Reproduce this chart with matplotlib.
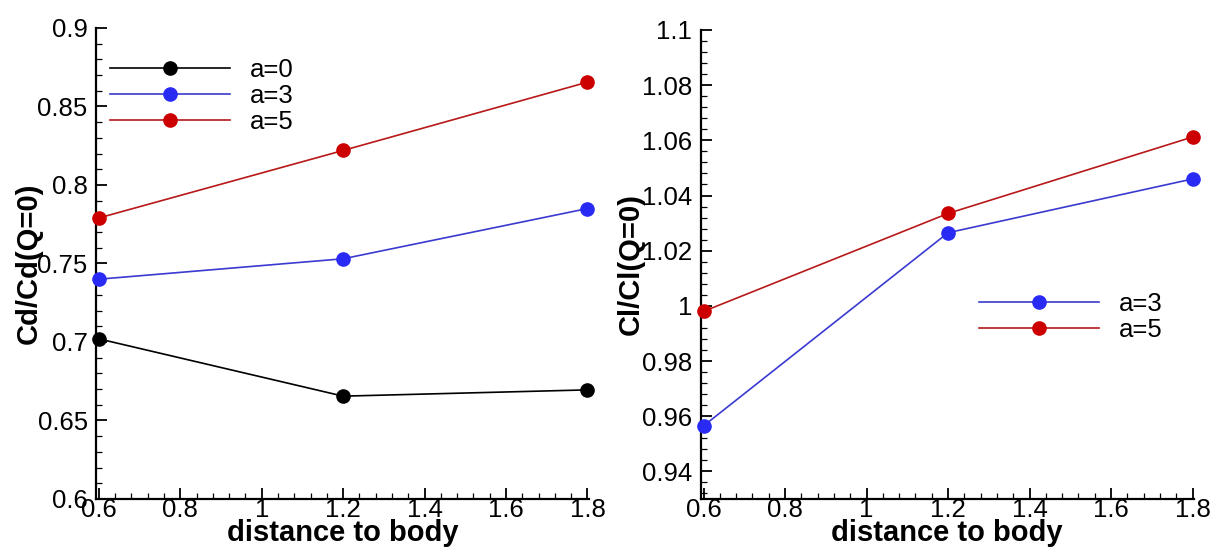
import matplotlib
matplotlib.use("Agg")
import matplotlib.pyplot as plt
from matplotlib.ticker import MultipleLocator

plt.rcParams['font.family'] = ['Liberation Sans', 'DejaVu Sans']

distance = [0.6, 1.2, 1.8]
cd_a0 = [0.702, 0.6655, 0.6695]
cd_a3 = [0.740, 0.753, 0.785]
cd_a5 = [0.779, 0.822, 0.8655]
cl_a3 = [0.9565, 1.0265, 1.046]
cl_a5 = [0.998, 1.0335, 1.0612]

left_labels = ['a=0', 'a=3', 'a=5']
right_labels = ['a=3', 'a=5']
left_yticks = [0.6, 0.65, 0.7, 0.75, 0.8, 0.85, 0.9]
right_yticks = [0.94, 0.96, 0.98, 1.0, 1.02, 1.04, 1.06, 1.08, 1.1]

BLACK_L, BLACK_M = '#000000', '#000000'
BLUE_L, BLUE_M = '#3a3ad0', '#2a2af5'
RED_L, RED_M = '#b81818', '#cc0000'

TICK_FS = 18.5
LABEL_FS = 21

fig = plt.figure(figsize=(12.15, 5.49), dpi=100)
ax1 = fig.add_axes([0.0790, 0.0911, 0.4055, 0.8579])
ax2 = fig.add_axes([0.5767, 0.0911, 0.4058, 0.8543])

def style(ax, ymin, ymax, ymaj, ymin_step):
    ax.set_xlim(0.593, 1.803)
    ax.set_ylim(ymin, ymax)
    ax.spines['top'].set_visible(False)
    ax.spines['right'].set_visible(False)
    for s in ('left', 'bottom'):
        ax.spines[s].set_linewidth(1.6)
    ax.xaxis.set_major_locator(MultipleLocator(0.2))
    ax.xaxis.set_minor_locator(MultipleLocator(0.04))
    ax.yaxis.set_minor_locator(MultipleLocator(ymin_step))
    ax.xaxis.set_major_formatter(plt.FuncFormatter(lambda v, p: ('%g' % round(v, 3))))
    ax.yaxis.set_major_formatter(plt.FuncFormatter(lambda v, p: ('%g' % round(v, 4))))
    ax.tick_params(which='major', direction='in', length=8, width=1.3,
                   labelsize=TICK_FS, top=False, right=False)
    ax.tick_params(which='minor', direction='in', length=4, width=0.9,
                   top=False, right=False)
    ax.tick_params(axis='y', which='major', pad=6)
    ax.tick_params(axis='x', which='major', pad=-1)
    ax.set_xlabel('distance to body', fontsize=LABEL_FS, fontweight='bold', labelpad=-2)

def plot_series(ax, y, lc, mc, label):
    ax.plot(distance, y, color=lc, lw=1.2, marker='o', ms=9.5,
            markerfacecolor=mc, markeredgecolor=mc, label=label, clip_on=False, zorder=3)

style(ax1, 0.6, 0.9, 0.05, 0.01)
plot_series(ax1, cd_a0, BLACK_L, BLACK_M, left_labels[0])
plot_series(ax1, cd_a3, BLUE_L, BLUE_M, left_labels[1])
plot_series(ax1, cd_a5, RED_L, RED_M, left_labels[2])
ax1.set_ylabel('Cd/Cd(Q=0)', fontsize=LABEL_FS, fontweight='bold', labelpad=-4)
ax1.set_yticks(left_yticks)
ax1.legend(loc='upper left', bbox_to_anchor=(0.028, 0.937), frameon=False,
           fontsize=TICK_FS, handlelength=4.67, handletextpad=0.78, labelspacing=0.09,
           borderpad=0, borderaxespad=0)

style(ax2, 0.93, 1.1, 0.02, 0.004)
plot_series(ax2, cl_a3, BLUE_L, BLUE_M, right_labels[0])
plot_series(ax2, cl_a5, RED_L, RED_M, right_labels[1])
ax2.set_ylabel('Cl/Cl(Q=0)', fontsize=LABEL_FS, fontweight='bold', labelpad=-2)
ax2.set_yticks(right_yticks)
ax2.legend(loc='upper left', bbox_to_anchor=(0.565, 0.442), frameon=False,
           fontsize=TICK_FS, handlelength=4.67, handletextpad=0.78, labelspacing=0.09,
           borderpad=0, borderaxespad=0)

fig.savefig('out.png', dpi=100)
